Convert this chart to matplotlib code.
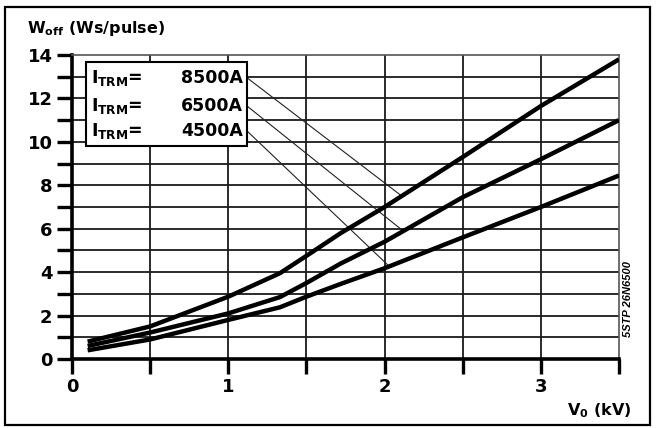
import numpy as np
import matplotlib
matplotlib.use("Agg")
import matplotlib.pyplot as plt
from matplotlib.patches import Rectangle

plt.rcParams['font.family'] = ['DejaVu Sans']
plt.rcParams['mathtext.fontset'] = 'dejavusans'
plt.rcParams['mathtext.default'] = 'bf'

# data (V0 in kV, Woff in Ws/pulse)
v0 = [0.1, 0.5, 1.0, 1.33, 1.5, 1.72, 2.0, 2.5, 3.0, 3.5]
w_8500 = [0.8, 1.5, 2.87, 3.95, 4.75, 5.8, 7.0, 9.3, 11.65, 13.8]
w_6500 = [0.6, 1.22, 2.1, 2.85, 3.5, 4.4, 5.4, 7.45, 9.2, 11.0]
w_4500 = [0.4, 0.9, 1.8, 2.38, 2.87, 3.46, 4.18, 5.6, 7.0, 8.45]
labels = ['8500A', '6500A', '4500A']
label_y = [12.95, 11.65, 10.5]
leader_x = [2.11, 2.12, 2.03]
x_ticks = [0, 1, 2, 3]
y_ticks = [0, 2, 4, 6, 8, 10, 12, 14]

fig = plt.figure(figsize=(6.56, 4.28), dpi=100)
ax = fig.add_axes([72/656, 1-359/428, (619-72)/656, (359-55)/428])
ax.set_xlim(0, 3.5)
ax.set_ylim(0, 14)

# grid
for x in np.arange(0.5, 3.5, 0.5):
    ax.axvline(x, color='#1a1a1a', lw=1.3, zorder=1)
for y in np.arange(1, 14, 1):
    ax.axhline(y, color='#1a1a1a', lw=1.3, zorder=1)

for w in (w_8500, w_6500, w_4500):
    ax.plot(v0, w, color='black', lw=3.2, solid_capstyle='butt', solid_joinstyle='round', zorder=3)

ax.spines['left'].set_linewidth(2.6)
ax.spines['bottom'].set_linewidth(2.6)
ax.spines['top'].set_linewidth(1.2)
ax.spines['right'].set_linewidth(1.2)
ax.spines['top'].set_color('#555555')
ax.spines['right'].set_color('#555555')

xt = np.arange(0, 3.51, 0.5)
ax.set_xticks(xt)
ax.set_xticklabels([str(int(t)) if t in x_ticks else '' for t in xt])
yt = np.arange(0, 15, 1)
ax.set_yticks(yt)
ax.set_yticklabels([str(int(t)) if int(t) in y_ticks else '' for t in yt])
ax.tick_params(axis='both', direction='out', length=11, width=2.4, labelsize=13, pad=3)
for lab in ax.get_xticklabels() + ax.get_yticklabels():
    lab.set_fontweight('bold')

# legend box
box = Rectangle((0.09, 9.8), 1.03, 3.9, facecolor='white', edgecolor='black', lw=1.5, zorder=5)
ax.add_patch(box)
curves = [w_8500, w_6500, w_4500]
for lab, ly, lx, w in zip(labels, label_y, leader_x, curves):
    ax.text(0.12, ly, r'I$_{\mathbf{TRM}}$=', fontsize=12.5, fontweight='bold', va='center', ha='left', zorder=6)
    ax.text(1.095, ly, lab, fontsize=12.5, fontweight='bold', va='center', ha='right', zorder=6)
    ax.plot([1.12, lx], [ly, np.interp(lx, v0, w)], color='#222222', lw=0.8, zorder=2)

fig.text(27/656, 1-33/428, r'W$_{\mathbf{off}}$ (Ws/pulse)', fontsize=11.5, fontweight='bold', ha='left', va='baseline')
fig.text(632/656, 1-415/428, r'V$_{\mathbf{0}}$ (kV)', fontsize=11.5, fontweight='bold', ha='right', va='baseline')
fig.text(628/656, 1-299/428, '5STP 26N6500', fontsize=8, fontweight='bold', style='italic',
         rotation=90, ha='center', va='center', family='Liberation Sans')

fig.patches.append(Rectangle((5/656, 1-425/428), 645/656, 418/428, transform=fig.transFigure,
                             fill=False, edgecolor='black', lw=1.6))

fig.savefig('out.png', dpi=100)
